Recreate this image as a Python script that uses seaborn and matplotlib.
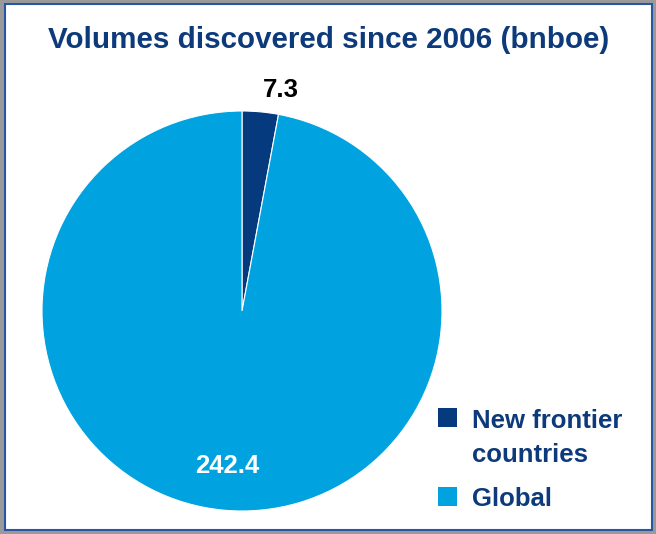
import numpy as np
import matplotlib
matplotlib.use("Agg")
import matplotlib.pyplot as plt
import seaborn as sns
from matplotlib.patches import Rectangle

categories = ["New frontier", "countries", "Global"]
legend_entries = [["New frontier", "countries"], ["Global"]]
values = [7.3, 242.4]
value_labels = ["7.3", "242.4"]
title = "Volumes discovered since 2006 (bnboe)"

sns.set_theme(style="white")
plt.rcParams['font.family'] = ['Liberation Sans', 'DejaVu Sans']

navy = "#063A7E"
light = "#00A3DF"
title_col = "#0D3A7A"
colors = [navy, light]

fig = plt.figure(figsize=(6.56, 5.34), dpi=100, facecolor="white")

# frame
fig.patches.append(Rectangle((0, 0), 1, 1, transform=fig.transFigure,
                             facecolor="#9a9a9a", edgecolor="none", zorder=-3))
fig.patches.append(Rectangle((5/656, 4/534), 647/656, 526/534, transform=fig.transFigure,
                             facecolor="white", edgecolor="#2A56A0", linewidth=1.5, zorder=-2))

ax = fig.add_axes([42/656, 23/534, 400/656, 400/534])
wedges, _ = ax.pie(values, colors=colors, startangle=90, counterclock=False,
                   wedgeprops=dict(linewidth=0.8, edgecolor="white"))
ax.set_xlim(-1, 1)
ax.set_ylim(-1, 1)
ax.set_aspect("equal")
ax.axis("off")

# label for small slice (outside)
w0 = wedges[0]
ang = np.deg2rad(w0.theta1 + 0.5)
ax.text(1.12 * np.cos(ang), 1.12 * np.sin(ang), value_labels[0], ha="center", va="center",
        fontsize=18.5, fontweight="bold", color="black", clip_on=False)
# label for large slice (inside)
w1 = wedges[1]
ang = np.deg2rad((w1.theta1 + w1.theta2) / 2)
ax.text(0.78 * np.cos(ang), 0.78 * np.sin(ang), value_labels[1], ha="center", va="center",
        fontsize=18.5, fontweight="bold", color="white")

fig.text(329/656, 1 - 40/534, title, ha="center", va="center",
         fontsize=21.3, fontweight="bold", color=title_col)

# legend
sq_centers = [417.5, 496.5]
line_centers = [[419, 452], [497]]
for c, lines, sc, lcs in zip(colors, legend_entries, sq_centers, line_centers):
    fig.patches.append(Rectangle((438/656, 1 - (sc + 9.5)/534), 19/656, 19/534,
                                 transform=fig.transFigure, facecolor=c, edgecolor="none"))
    for line, ly in zip(lines, lcs):
        fig.text(472/656, 1 - ly/534, line, ha="left", va="center_baseline", fontsize=18.5,
                 fontweight="bold", color=title_col)

fig.savefig("out.png", dpi=100, facecolor=fig.get_facecolor())
